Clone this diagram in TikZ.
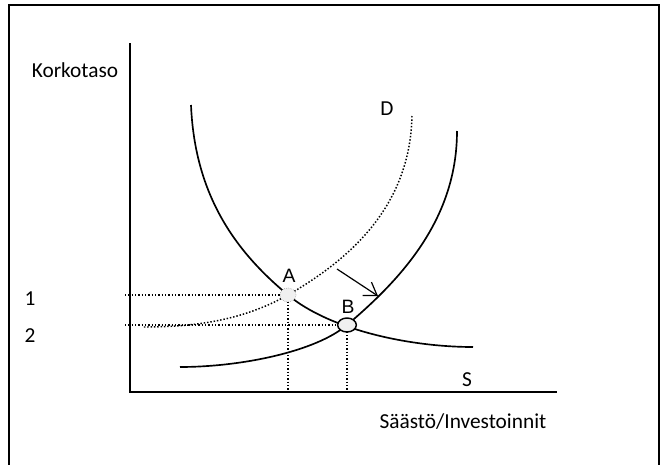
\documentclass[tikz,border=0pt]{standalone}
\usepackage{fontspec}
\setmainfont{Carlito}
\newfontfamily\arialfont{Liberation Sans}
\usetikzlibrary{shapes.geometric,arrows.meta}
\begin{document}
\begin{tikzpicture}[x=0.75pt,y=-0.75pt,
  lbl/.style={font=\fontsize{16}{19}\selectfont, inner sep=0pt},
  ptlbl/.style={font=\arialfont\fontsize{14.5}{17}\selectfont, inner sep=0pt},
  curve/.style={line width=1.25pt},
  dotline/.style={line width=1.1pt, dash pattern=on 1.1pt off 1.4pt},
  axis/.style={line width=1.7pt},
  frame/.style={line width=1.5pt}]
\useasboundingbox (0,0) rectangle (669,465);
\draw[frame] (8.5,470) -- (8.5,5) -- (659,5) -- (659,470);
% axes
\coordinate (ytop) at (130,43);
\coordinate (o) at (130,392);
\coordinate (xend) at (557,392);
\draw[axis] (ytop) -- (o) -- (xend);
% equilibrium points
\coordinate (pa) at (288,295);
\coordinate (pb) at (347,325);
% dotted guide lines
\coordinate (h1) at (125,295);
\coordinate (h2) at (125,325);
\draw[dotline] (h1) -- (pa);
\draw[dotline] (h2) -- (pb);
\draw[dotline] (pa) -- (pa |- o);
\draw[dotline] (pb) -- (pb |- o);
% dotted curve D
\coordinate (dtop) at (412,116);
\coordinate (dend) at (143,327);
\draw[dotline] (dtop) .. controls (410,210) and (345,262) .. (pa)
  .. controls (240,322) and (190,327) .. (dend);
% curve I (decreasing)
\coordinate (itop) at (191,105);
\coordinate (iend) at (473,347);
\draw[curve] (itop) .. controls (195,200) and (240,255) .. (pa)
  .. controls (330,330) and (410,347) .. (iend);
% curve S (increasing)
\coordinate (stop) at (457,131);
\coordinate (send) at (180,367);
\draw[curve] (stop) .. controls (457,220) and (400,280) .. (pb)
  .. controls (315,352) and (240,367) .. (send);
% shift arrow
\coordinate (as) at (337,269);
\coordinate (ae) at (378,296);
\draw[line width=0.9pt, -{Straight Barb[length=9pt,width=12pt,line width=0.9pt]}] (as) -- (ae);
% nodes A and B
\node[ellipse, draw=gray, densely dotted, fill=gray!12, minimum width=12pt, minimum height=10.5pt, inner sep=0pt] (A) at (pa) {};
\node[ellipse, draw=black, line width=1.1pt, fill=gray!12, minimum width=14pt, minimum height=10.5pt, inner sep=0pt] (B) at (pb) {};
% labels
\node[lbl] (korko) at (75,70) {Korkotaso};
\node[lbl] (n1) at (30,299) {1};
\node[lbl] (n2) at (30,336) {2};
\node[lbl] (xl) at (463,422) {Säästö/Investoinnit};
\node[lbl] (ls) at (467,380) {S};
\node[lbl] (ld) at (387,109) {D};
\node[ptlbl] (la) at (289,276) {A};
\node[ptlbl] (lb) at (348,307) {B};
\end{tikzpicture}
\end{document}
